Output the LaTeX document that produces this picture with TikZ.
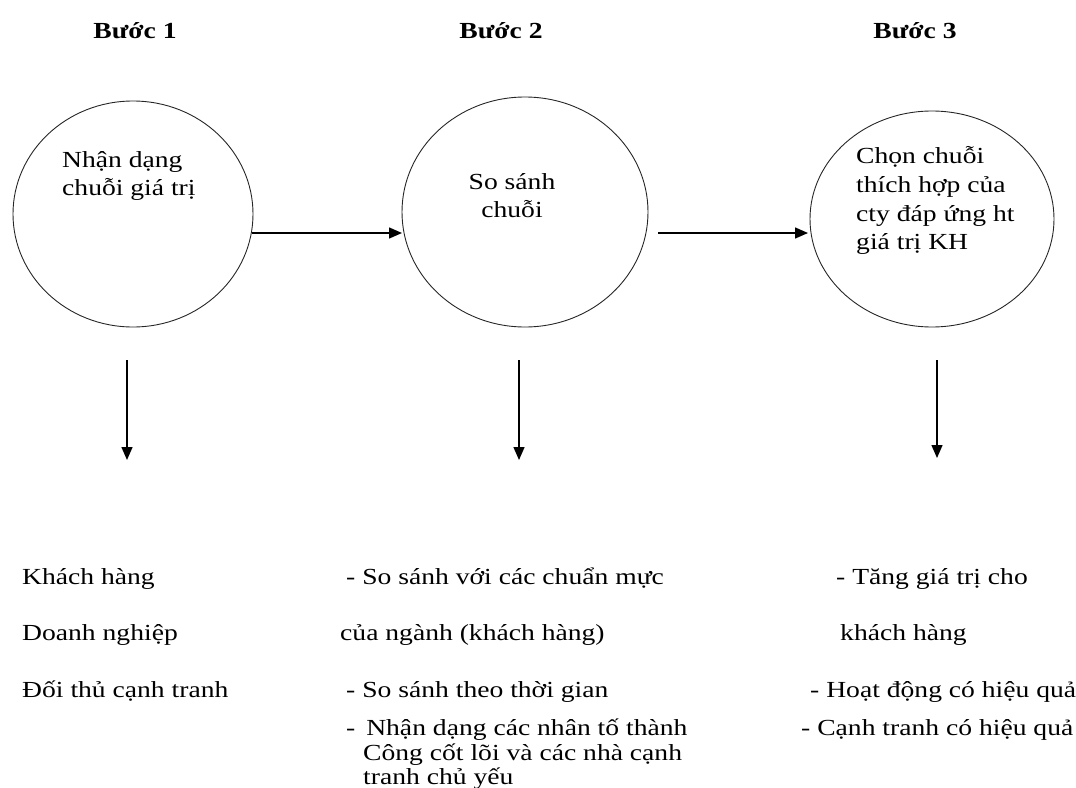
\documentclass[tikz,border=0pt]{standalone}
\usepackage{fontspec}
\setmainfont{Liberation Serif}[FakeStretch=1.2]
\usetikzlibrary{arrows.meta,shapes.geometric}
\begin{document}
\begin{tikzpicture}[x=1pt,y=-1pt,
  txt/.style={inner sep=0pt, anchor=base west, font=\fontsize{23}{26}\selectfont},
  ctxt/.style={inner sep=0pt, anchor=base, font=\fontsize{23}{26}\selectfont},
  head/.style={inner sep=0pt, anchor=base, font=\fontsize{23}{26}\selectfont\bfseries},
  circ/.style={draw=black!85, line width=0.9pt, ellipse, inner sep=0pt},
  arr/.style={line width=1.4pt, -{Triangle[length=13pt,width=11pt]}}]
\useasboundingbox (0,0) rectangle (1076,787);

% step headings
\node[head] (h1) at (135,38) {Bước 1};
\node[head] (h2) at (501,38) {Bước 2};
\node[head] (h3) at (915,38) {Bước 3};

% the three stages
\node[circ, minimum width=240pt, minimum height=226pt] (c1) at (133,214) {};
\node[circ, minimum width=246pt, minimum height=230pt] (c2) at (525,212) {};
\node[circ, minimum width=244pt, minimum height=216pt] (c3) at (932,219) {};

\node[txt] (c1a) at (62,167) {Nhận dạng};
\node[txt] (c1b) at (62,195) {chuỗi giá trị};
\node[ctxt] (c2a) at (512,189) {So sánh};
\node[ctxt] (c2b) at (512,217) {chuỗi};
\node[txt] (c3a) at (856,163) {Chọn chuỗi};
\node[txt] (c3b) at (856,192) {thích hợp của};
\node[txt] (c3c) at (856,221) {cty đáp ứng ht};
\node[txt] (c3d) at (856,249) {giá trị KH};

% flow between stages
\coordinate (a1s) at (252,233);
\coordinate (a1e) at (402,233);
\coordinate (a2s) at (658,233);
\coordinate (a2e) at (808,233);
\draw[arr] (a1s) -- (a1e);
\draw[arr] (a2s) -- (a2e);

% downward arrows to the details
\coordinate (d1s) at (127,360);
\coordinate (d1e) at (127,460);
\coordinate (d2s) at (519,360);
\coordinate (d2e) at (519,460);
\coordinate (d3s) at (937,360);
\coordinate (d3e) at (937,458);
\draw[arr] (d1s) -- (d1e);
\draw[arr] (d2s) -- (d2e);
\draw[arr] (d3s) -- (d3e);

% details, step 1
\node[txt] (l1) at (22,584) {Khách hàng};
\node[txt] (l2) at (22,640) {Doanh nghiệp};
\node[txt] (l3) at (22,697) {Đối thủ cạnh tranh};

% details, step 2
\node[txt] (m1) at (346,584) {- So sánh với các chuẩn mực};
\node[txt] (m2) at (340,640) {của ngành (khách hàng)};
\node[txt] (m3) at (346,697) {- So sánh theo thời gian};
\node[txt] (m4) at (346,735) {-\hspace{4pt} Nhận dạng các nhân tố thành};
\node[txt] (m5) at (363,760) {Công cốt lõi và các nhà cạnh};
\node[txt] (m6) at (363,784) {tranh chủ yếu};

% details, step 3
\node[txt] (r1) at (836,584) {- Tăng giá trị cho};
\node[txt] (r2) at (840,640) {khách hàng};
\node[txt] (r3) at (810,697) {- Hoạt động có hiệu quả};
\node[txt] (r4) at (801,735) {- Cạnh tranh có hiệu quả};
\end{tikzpicture}
\end{document}
